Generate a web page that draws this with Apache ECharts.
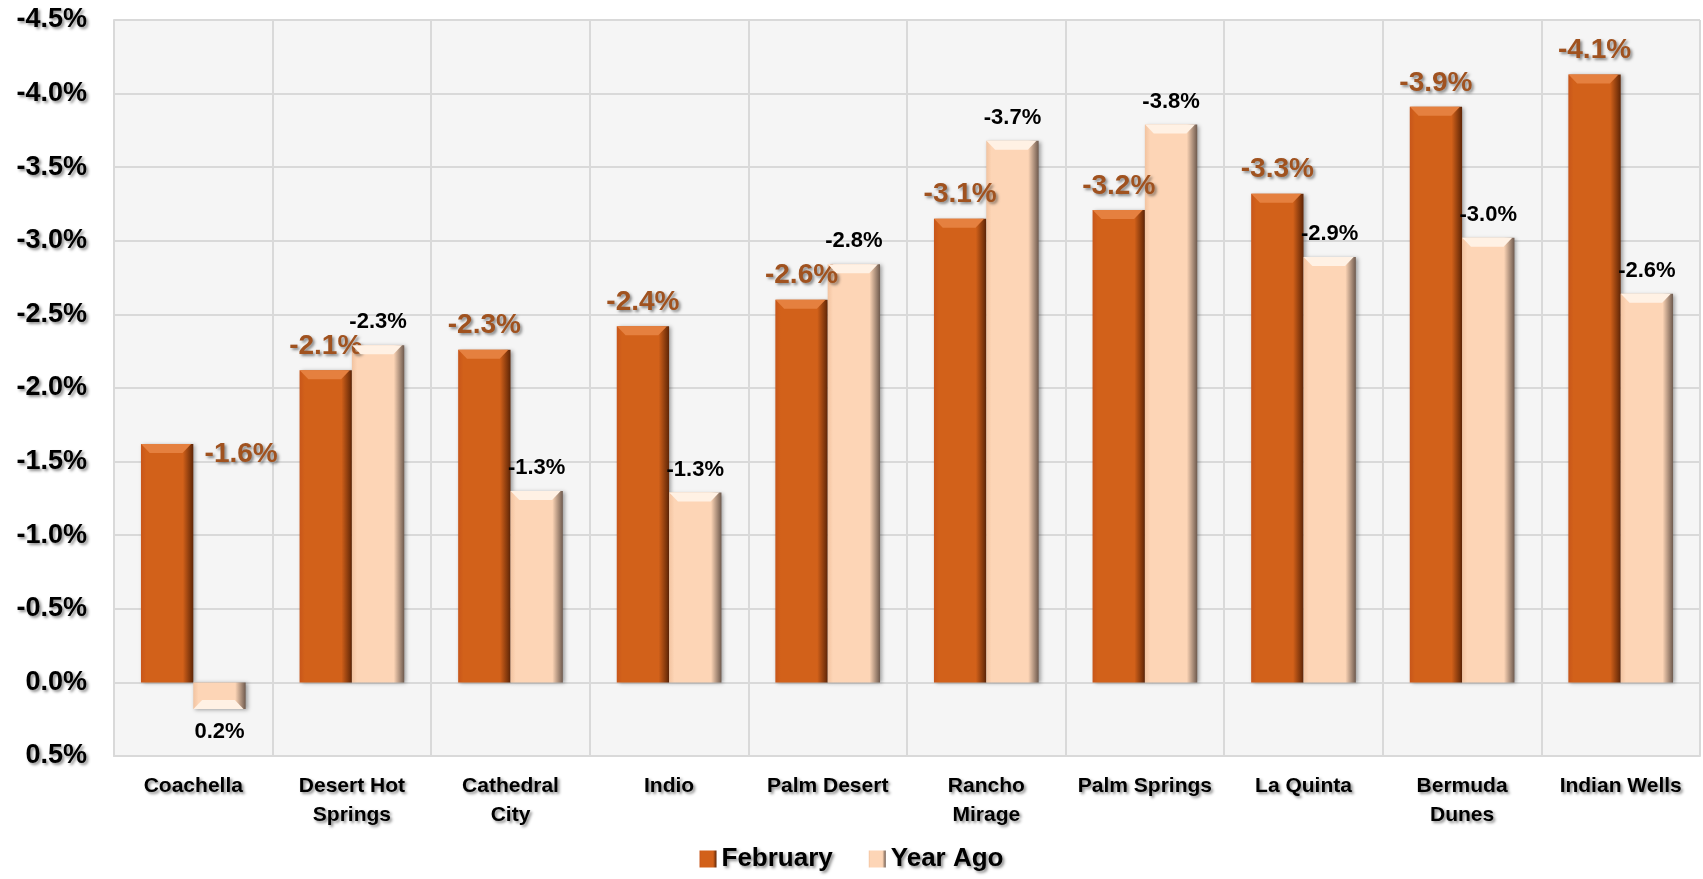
<!DOCTYPE html>
<html>
<head>
<meta charset="utf-8">
<script src="https://cdn.jsdelivr.net/npm/echarts@6/dist/echarts.min.js"></script>
<style>
  html, body { margin: 0; padding: 0; background: #fff; }
  #main { width: 1703px; height: 879px; }
</style>
</head>
<body>
<div id="main"></div>
<script>
// categories and values (percent change)
const cities = ['Coachella', 'Desert Hot\nSprings', 'Cathedral\nCity', 'Indio', 'Palm Desert',
  'Rancho\nMirage', 'Palm Springs', 'La Quinta', 'Bermuda\nDunes', 'Indian Wells']
const february = [-1.62, -2.12, -2.26, -2.42, -2.60, -3.15, -3.21, -3.32, -3.91, -4.13]
const yearAgo = [0.18, -2.29, -1.30, -1.29, -2.84, -3.68, -3.79, -2.89, -3.02, -2.64]

const FONT = 'Liberation Sans, Arial, sans-serif'
const chart = echarts.init(document.getElementById('main'))

// fake bevel: dark edge on the right side of each bar
function barFill (left, mid, right) {
  return new echarts.graphic.LinearGradient(0, 0, 1, 0, [
    { offset: 0, color: left },
    { offset: 0.1, color: mid },
    { offset: 0.8, color: mid },
    { offset: 1, color: right }
  ])
}
// top facet of the bevel
const bevelPath = 'path://M0,0 L52,0 L43,9 L9,9 Z'

const shadowText = {
  textShadowColor: 'rgba(0,0,0,0.45)',
  textShadowBlur: 3,
  textShadowOffsetX: 2,
  textShadowOffsetY: 2
}

const pct = v => v.toFixed(1) + '%'

const febData = february.map((v, i) => {
  if (i === 0) {
    // Coachella label sits to the right of the bar
    return { value: v, label: { offset: [74, 34] } }
  }
  return v
})
const yaData = yearAgo.map(v => {
  if (v > 0) {
    return { value: v, label: { position: 'bottom' } }
  }
  return v
})

function bevel (data, color) {
  return {
    type: 'pictorialBar',
    data: data,
    symbol: bevelPath,
    symbolSize: [50, 9],
    symbolPosition: 'end',
    symbolOffset: [-1, 0],
    barGap: '0%',
    barCategoryGap: '34%',
    z: 3,
    silent: true,
    itemStyle: { color: color },
    label: { show: false }
  }
}

const option = {
  backgroundColor: '#fff',
  animation: false,
  grid: {
    left: 114,
    right: 3,
    top: 20,
    bottom: 123,
    show: true,
    backgroundColor: '#F5F5F5',
    borderWidth: 0
  },
  legend: {
    bottom: 2,
    left: 'center',
    itemWidth: 17,
    itemHeight: 17,
    itemGap: 36,
    icon: 'rect',
    textStyle: Object.assign({
      fontFamily: FONT,
      fontSize: 26,
      fontWeight: 'bold',
      color: '#000'
    }, shadowText),
    data: ['February', 'Year Ago']
  },
  xAxis: {
    type: 'category',
    data: cities,
    axisLine: { show: true, onZero: false, lineStyle: { color: '#D9D9D9', width: 2 } },
    axisTick: { show: false },
    splitLine: { show: true, lineStyle: { color: '#D9D9D9', width: 2 } },
    axisLabel: Object.assign({
      fontFamily: FONT,
      fontSize: 21,
      fontWeight: 'bold',
      color: '#000',
      lineHeight: 29,
      margin: 16,
      interval: 0
    }, shadowText)
  },
  yAxis: {
    type: 'value',
    inverse: true,
    min: -4.5,
    max: 0.5,
    interval: 0.5,
    axisLine: { show: true, lineStyle: { color: '#D9D9D9', width: 2 } },
    axisTick: { show: false },
    splitLine: { show: true, lineStyle: { color: '#D9D9D9', width: 2 } },
    axisLabel: Object.assign({
      fontFamily: FONT,
      fontSize: 27,
      fontWeight: 'bold',
      color: '#000',
      margin: 27,
      formatter: pct
    }, shadowText)
  },
  series: [
    {
      name: 'February',
      type: 'bar',
      data: febData,
      barGap: '0%',
      barCategoryGap: '34%',
      itemStyle: {
        color: barFill('#C8561A', '#D2611A', '#5E2506'),
        shadowColor: 'rgba(0,0,0,0.35)',
        shadowBlur: 4,
        shadowOffsetX: 2,
        shadowOffsetY: 1
      },
      label: Object.assign({
        show: true,
        position: 'top',
        distance: 10,
        fontFamily: FONT,
        fontSize: 28,
        fontWeight: 'bold',
        color: '#A0521F',
        formatter: p => pct(p.value)
      }, shadowText)
    },
    {
      name: 'Year Ago',
      type: 'bar',
      data: yaData,
      itemStyle: {
        color: barFill('#F2C3A0', '#FDD5B6', '#6E5A4E'),
        shadowColor: 'rgba(0,0,0,0.35)',
        shadowBlur: 4,
        shadowOffsetX: 2,
        shadowOffsetY: 1
      },
      label: {
        show: true,
        position: 'top',
        distance: 12,
        fontFamily: FONT,
        fontSize: 22,
        fontWeight: 'bold',
        color: '#000',
        formatter: p => pct(p.value)
      }
    },
    bevel(february, '#E5803F'),
    bevel(yearAgo, '#FFF1E4')
  ]
}

chart.setOption(option)
window.addEventListener('resize', () => chart.resize())
</script>
</body>
</html>
